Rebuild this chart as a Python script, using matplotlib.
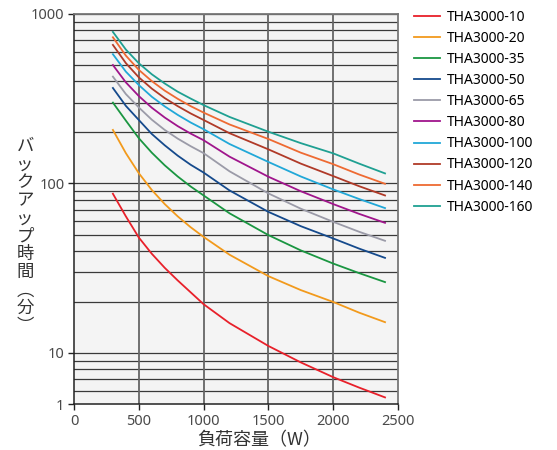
import numpy as np
import matplotlib
matplotlib.use('Agg')
import matplotlib.pyplot as plt
from matplotlib.ticker import FixedLocator, NullFormatter

plt.rcParams['font.family'] = ['Noto Sans', 'Noto Sans CJK JP', 'DejaVu Sans']

# load (W) at which each curve was read
load_w = [300, 400, 500, 600, 700, 800, 900, 1000, 1200, 1500, 1750, 2000, 2200, 2400]

# backup time (min)
tha_10 = [87, 64, 48, 38.5, 31.8, 26.8, 22.8, 19.4, 15.0, 11.0, 8.8, 7.2, 6.25, 5.47]
tha_20 = [207, 151, 115, 91.6, 75.6, 64, 55.2, 48.4, 38, 28.4, 23.5, 20.0, 17.3, 15.2]
tha_35 = [300, 235, 185, 152, 128, 110, 96, 85, 66.7, 49.6, 40.3, 33.7, 29.6, 26.2]
tha_50 = [366, 287, 237, 196, 168, 146, 129, 116, 91, 68, 56, 47.4, 41.3, 36.4]
tha_65 = [427, 337, 281, 238, 207, 184, 166, 151, 118, 87.4, 71, 59.4, 51.9, 45.9]
tha_80 = [500, 395, 328, 280, 245, 218, 197, 180, 144, 109.6, 90, 75.6, 66.2, 58.6]
tha_100 = [579, 457, 381, 325, 285, 254, 229, 209, 171, 134, 110, 92.3, 81, 71.6]
tha_120 = [657, 513, 423, 363, 319, 286, 259, 237, 198, 159, 131, 110.6, 96.4, 85]
tha_140 = [729, 568, 468, 402, 353, 316, 286, 262, 223, 183, 152, 130, 113, 99.6]
tha_160 = [784, 617, 512, 441, 389, 348, 317, 290, 247, 202, 173, 150.6, 131, 114.7]

series = [tha_10, tha_20, tha_35, tha_50, tha_65, tha_80, tha_100, tha_120, tha_140, tha_160]
labels = ['THA3000-10', 'THA3000-20', 'THA3000-35', 'THA3000-50', 'THA3000-65',
          'THA3000-80', 'THA3000-100', 'THA3000-120', 'THA3000-140', 'THA3000-160']
colors = ['#e8202a', '#f29a1c', '#1a9641', '#154a8c', '#9b9ba8',
          '#a0158c', '#21a8d8', '#b03a28', '#ee6a32', '#1fa092']

x_ticks = [0, 500, 1000, 1500, 2000, 2500]
y_ticks = [5, 10, 100, 1000]
y_tick_labels = ['1', '10', '100', '1000']

fig = plt.figure(figsize=(5.57, 4.5), dpi=100)
ax = fig.add_axes([0.1329, 0.1022, 0.5816, 0.8667])
ax.set_facecolor('#f4f4f4')

ax.set_yscale('log')
ax.set_xlim(0, 2500)
ax.set_ylim(5, 1000)

# horizontal grid at every log step, vertical at every 500 W
hlines = [v for v in range(6, 10)] + [v * 10 for v in range(1, 10)] + [v * 100 for v in range(1, 11)]
for v in hlines:
    ax.axhline(v, color='#3a3a3a', lw=0.9, zorder=1)
for v in x_ticks[1:-1]:
    ax.axvline(v, color='#666666', lw=1.3, zorder=1)

for vals, lab, col in zip(series, labels, colors):
    ax.plot(load_w, vals, color=col, lw=1.3, label=lab, zorder=3)

ax.yaxis.set_major_locator(FixedLocator(y_ticks))
ax.set_yticklabels(y_tick_labels)
ax.yaxis.set_minor_formatter(NullFormatter())
ax.tick_params(axis='y', which='minor', length=0)
ax.set_xticks(x_ticks)
ax.tick_params(axis='both', which='major', length=4, width=1, color='#222222',
               labelsize=10.5, labelcolor='#4a4a4a', pad=3)

for s in ['top', 'right']:
    ax.spines[s].set_color('#777777')
    ax.spines[s].set_linewidth(1.3)
for s in ['left', 'bottom']:
    ax.spines[s].set_color('#222222')
    ax.spines[s].set_linewidth(1.1)

cjk = ['Noto Sans CJK JP', 'DejaVu Sans']
ax.set_xlabel('負荷容量（W）', fontsize=13, color='#333333', family=cjk)
ax.xaxis.set_label_coords(0.571, -0.07)
ax.set_ylabel('\n'.join('バックアップ時間︵分︶'), rotation=0, fontsize=12.5,
              color='#333333', linespacing=1.0, va='center', ha='center', family=cjk)
ax.yaxis.set_label_coords(-0.151, 0.43)

ax.legend(loc='upper left', bbox_to_anchor=(0.726, 1.0), bbox_transform=fig.transFigure,
          frameon=False, fontsize=10, handlelength=1.9, handletextpad=0.45,
          labelspacing=0.44, borderaxespad=0.3)

plt.savefig('out.png', dpi=100)
